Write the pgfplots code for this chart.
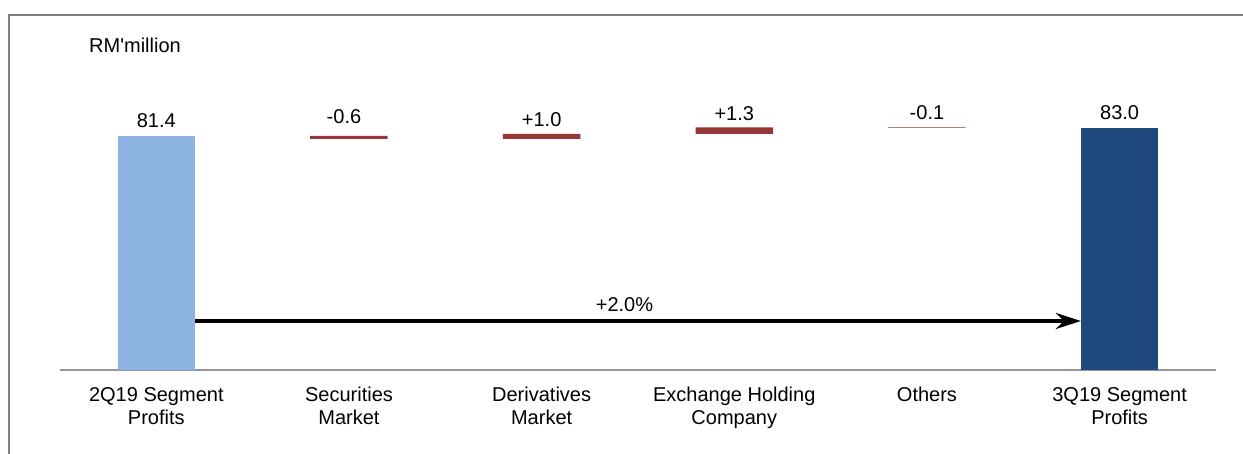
\documentclass[border=0pt]{standalone}
\usepackage{fontspec}
\setmainfont{Liberation Sans}[Ligatures=TeXOff]
\usepackage{pgfplots}
\pgfplotsset{compat=1.18}
\usetikzlibrary{arrows.meta}

\definecolor{lightbar}{RGB}{141,180,227}
\definecolor{darkbar}{RGB}{31,73,125}
\definecolor{redbar}{RGB}{149,55,53}
\definecolor{framegray}{RGB}{128,128,128}
\definecolor{axisgray}{RGB}{150,150,150}

\newcommand{\lblfont}{\fontsize{20bp}{23bp}\selectfont}

\begin{document}
\begin{tikzpicture}[x=1bp,y=1bp]
\useasboundingbox (0,0) rectangle (1243,454);
% frame, cut at right and bottom
\draw[framegray, line width=2bp] (9,-2) -- (9,439) -- (1245,439);
\node[anchor=base west, inner sep=0pt, font=\lblfont] at (89,401.7) {RM'million};

\begin{axis}[
  at={(60bp,84bp)}, anchor=south west,
  scale only axis, width=1156bp, height=327bp,
  xmin=-0.5, xmax=5.5, ymin=34.6, ymax=100,
  ybar stacked, bar width=77.5bp,
  axis x line*=bottom, axis y line=none,
  x axis line style={axisgray, line width=1.5bp, -},
  xtick={0,1,2,3,4,5}, xtick style={draw=none},
  major tick length=0pt, ytick=\empty,
  xticklabels={{2Q19 Segment\\Profits}, {Securities\\Market}, {Derivatives\\Market},
    {Exchange Holding\\Company}, {Others}, {3Q19 Segment\\Profits}},
  xticklabel style={align=center, anchor=north, inner sep=0pt, yshift=-17bp, font=\lblfont},
]
% invisible base of the floating bars
\addplot[draw=none, fill=none] coordinates {(0,0) (1,80.8) (2,80.8) (3,81.8) (4,83.0) (5,0)};
% opening profit
\addplot[draw=none, fill=lightbar] coordinates {(0,81.4) (1,0) (2,0) (3,0) (4,0) (5,0)};
% segment changes
\addplot[draw=none, fill=redbar] coordinates {(0,0) (1,0.6) (2,1.0) (3,1.3) (4,0.1) (5,0)};
% closing profit
\addplot[draw=none, fill=darkbar] coordinates {(0,0) (1,0) (2,0) (3,0) (4,0) (5,83.0)};

% value labels
\node[anchor=base, font=\lblfont] at (axis cs:0,83.0) {81.4};
\node[anchor=base, font=\lblfont] at (axis cs:0.974,83.8) {-0.6};
\node[anchor=base, font=\lblfont] at (axis cs:2,83.26) {+1.0};
\node[anchor=base, font=\lblfont] at (axis cs:3,84.4) {+1.3};
\node[anchor=base, font=\lblfont] at (axis cs:4,84.6) {-0.1};
\node[anchor=base, font=\lblfont] at (axis cs:5,84.74) {83.0};

% growth arrow
\draw[line width=3.8bp, -{Stealth[length=25bp, width=16bp, inset=8bp]}]
  (axis cs:0.201,44.4) -- (axis cs:4.799,44.4);
\node[anchor=base, font=\lblfont] at (axis cs:2.43,46.26) {+2.0\%};
\end{axis}
\end{tikzpicture}
\end{document}
